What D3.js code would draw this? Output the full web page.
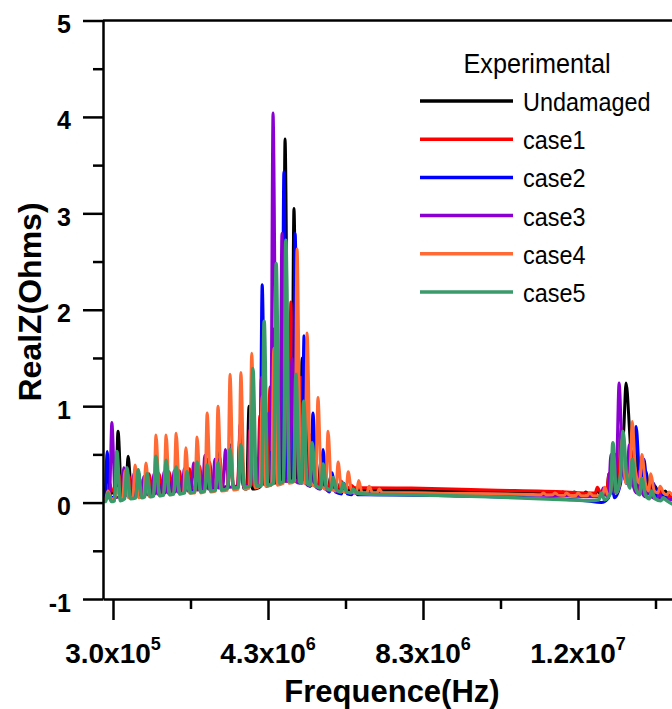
<!DOCTYPE html>
<html>
<head>
<meta charset="utf-8">
<script src="https://cdn.jsdelivr.net/npm/d3@7"></script>
<style>
  body { margin: 0; background: #fff; }
  svg { display: block; font-family: Arial, "Liberation Sans", sans-serif; }
</style>
</head>
<body>
<div class="canvas"></div>
<script>
// frequency in MHz; rows are [f, base] or [f, base, peak] for a resonance spike
const undamaged = [
  [0.05, 0.10], [0.17, 0.10, 0.30], [0.43, 0.10, 0.74], [0.69, 0.10, 0.48], [0.95, 0.11, 0.32],
  [1.20, 0.12, 0.30], [1.44, 0.12, 0.33], [1.69, 0.13, 0.35], [1.95, 0.13, 0.33], [2.21, 0.14, 0.36],
  [2.47, 0.14, 0.40], [2.73, 0.15, 0.45], [3.01, 0.15, 0.52], [3.32, 0.15, 0.60], [3.58, 0.15, 0.75],
  [3.81, 0.14, 1.00], [4.04, 0.15], [4.17, 0.17, 1.25], [4.45, 0.20, 1.80], [4.74, 0.22, 3.77],
  [4.97, 0.24, 3.05], [5.18, 0.22, 1.50], [5.41, 0.18, 0.70], [5.66, 0.15, 0.42], [5.92, 0.14, 0.28],
  [6.18, 0.13, 0.22], [6.45, 0.13, 0.17], [6.70, 0.13], [8.00, 0.13], [10.0, 0.11], [11.3, 0.10],
  [11.6, 0.095, 0.11], [11.9, 0.09, 0.11], [12.2, 0.09, 0.11], [12.5, 0.085, 0.11], [12.8, 0.08, 0.13],
  [13.1, 0.10, 0.30], [13.28, 0.20, 0.50], [13.42, 0.50], [13.54, 0.75, 1.24], [13.68, 0.40],
  [13.8, 0.20, 0.55], [14.05, 0.12, 0.32], [14.29, 0.09, 0.17], [14.55, 0.08, 0.12], [14.8, 0.07], [15.5, 0.06]
];
const case1 = [
  [0.05, 0.12], [0.20, 0.12, 0.20], [0.45, 0.12, 0.30], [0.71, 0.12, 0.28], [0.97, 0.12, 0.27],
  [1.23, 0.13, 0.30], [1.49, 0.13, 0.30], [1.75, 0.14, 0.32], [2.01, 0.14, 0.33], [2.27, 0.15, 0.35],
  [2.53, 0.15, 0.38], [2.79, 0.16, 0.42], [3.05, 0.16, 0.48], [3.31, 0.17, 0.55], [3.57, 0.17, 0.62],
  [3.83, 0.18, 0.75], [4.09, 0.19, 0.90], [4.35, 0.20, 1.20], [4.61, 0.22, 1.00], [4.89, 0.24, 2.08],
  [5.15, 0.22, 1.30], [5.41, 0.19, 0.70], [5.67, 0.17, 0.42], [5.93, 0.16, 0.28], [6.19, 0.16, 0.22],
  [6.45, 0.155, 0.18], [6.70, 0.155], [8.00, 0.15], [10.0, 0.13], [12.0, 0.11], [12.6, 0.10],
  [12.8, 0.10, 0.16], [13.1, 0.12, 0.30], [13.41, 0.25, 0.78], [13.67, 0.20, 0.55], [13.92, 0.13, 0.35],
  [14.16, 0.09, 0.20], [14.42, 0.07, 0.12], [14.8, 0.06], [15.5, 0.05]
];
const case2 = [
  [0.05, 0.05], [0.15, 0.05, 0.53], [0.40, 0.06, 0.28], [0.66, 0.06, 0.25], [0.92, 0.07, 0.22],
  [1.18, 0.08, 0.25], [1.44, 0.09, 0.27], [1.70, 0.10, 0.30], [1.96, 0.11, 0.30], [2.22, 0.12, 0.32],
  [2.48, 0.13, 0.35], [2.74, 0.14, 0.40], [3.00, 0.15, 0.45], [3.32, 0.16, 0.58], [3.60, 0.17, 0.65],
  [3.88, 0.18, 1.00], [4.15, 0.19, 2.26], [4.42, 0.20, 1.30], [4.71, 0.22, 3.43], [5.00, 0.22, 2.79],
  [5.23, 0.20, 1.73], [5.46, 0.17, 0.93], [5.72, 0.14, 0.55], [5.95, 0.11, 0.31], [6.26, 0.09, 0.20],
  [6.52, 0.08, 0.14], [6.80, 0.08], [9.00, 0.07], [11.0, 0.05], [12.5, 0.02], [12.9, 0.00],
  [13.15, 0.05, 0.35], [13.46, 0.20, 0.60], [13.8, 0.25, 0.79], [14.0, 0.15, 0.45], [14.25, 0.07, 0.20],
  [14.5, 0.04, 0.10], [14.8, 0.03], [15.5, 0.02]
];
const case3 = [
  [0.05, 0.05], [0.27, 0.05, 0.83], [0.58, 0.07, 0.36], [0.84, 0.07, 0.30], [1.10, 0.08, 0.27],
  [1.36, 0.09, 0.30], [1.62, 0.10, 0.32], [1.88, 0.11, 0.33], [2.14, 0.12, 0.35], [2.38, 0.13, 0.41],
  [2.67, 0.14, 0.49], [2.93, 0.15, 0.45], [3.20, 0.16, 0.55], [3.58, 0.17, 0.81], [3.86, 0.18, 1.00],
  [4.13, 0.19, 1.30], [4.25, 0.40], [4.29, 0.90], [4.33, 0.93], [4.43, 0.55, 4.04], [4.66, 0.22, 2.79],
  [4.92, 0.22, 1.50], [5.18, 0.20, 0.90], [5.44, 0.17, 0.55], [5.69, 0.14, 0.35], [5.95, 0.12, 0.25],
  [6.20, 0.11, 0.18], [6.50, 0.10], [8.00, 0.10], [10.0, 0.09], [12.0, 0.07], [12.7, 0.06],
  [12.95, 0.07, 0.15], [13.15, 0.10, 0.50], [13.36, 0.40, 1.24], [13.62, 0.20, 0.60], [13.87, 0.10, 0.32],
  [14.1, 0.06, 0.15], [14.4, 0.04, 0.08], [14.8, 0.03], [15.5, 0.03]
];
const case4 = [
  [0.05, 0.03], [0.17, 0.04, 0.12], [0.40, 0.04, 0.15], [0.61, 0.05, 0.33], [0.87, 0.05, 0.39],
  [1.15, 0.06, 0.41], [1.41, 0.07, 0.70], [1.67, 0.08, 0.70], [1.93, 0.09, 0.72], [2.18, 0.10, 0.57],
  [2.47, 0.10, 0.68], [2.73, 0.11, 0.93], [3.01, 0.12, 1.00], [3.32, 0.13, 1.33], [3.60, 0.14, 1.35],
  [3.88, 0.15, 1.55], [4.15, 0.17, 1.10], [4.45, 0.18, 1.60], [4.76, 0.20, 2.00], [5.05, 0.22, 2.63],
  [5.31, 0.20, 1.76], [5.59, 0.17, 1.09], [5.85, 0.14, 0.74], [6.11, 0.12, 0.42], [6.37, 0.11, 0.32],
  [6.64, 0.10, 0.23], [6.91, 0.10, 0.17], [7.17, 0.10, 0.14], [7.50, 0.10], [9.00, 0.095], [11.0, 0.085],
  [11.4, 0.08, 0.10], [11.7, 0.08, 0.10], [12.0, 0.075, 0.10], [12.3, 0.07, 0.10], [12.6, 0.07, 0.10],
  [12.99, 0.07, 0.16], [13.2, 0.10, 0.40], [13.44, 0.20, 0.67], [13.7, 0.30, 0.84], [13.95, 0.20, 0.50],
  [14.18, 0.12, 0.30], [14.42, 0.10, 0.17], [14.65, 0.08, 0.11], [15.0, 0.07], [15.5, 0.06]
];
const case5 = [
  [0.05, 0.01], [0.17, 0.01, 0.10], [0.40, 0.02, 0.53], [0.66, 0.04, 0.36], [0.95, 0.05, 0.34],
  [1.18, 0.06, 0.30], [1.41, 0.07, 0.48], [1.67, 0.08, 0.44], [1.93, 0.09, 0.37], [2.21, 0.10, 0.32],
  [2.47, 0.11, 0.42], [2.73, 0.12, 0.39], [3.01, 0.13, 0.41], [3.32, 0.15, 0.55], [3.60, 0.16, 0.60],
  [3.91, 0.17, 1.39], [4.20, 0.18, 1.88], [4.51, 0.20, 2.48], [4.76, 0.22, 2.72], [5.02, 0.22, 1.33],
  [5.22, 0.20, 1.05], [5.44, 0.18, 0.62], [5.72, 0.15, 0.40], [5.98, 0.13, 0.26], [6.24, 0.11, 0.20],
  [6.50, 0.10, 0.14], [6.80, 0.09], [8.00, 0.08], [10.0, 0.06], [12.0, 0.03], [12.6, 0.02],
  [12.9, 0.03, 0.10], [13.2, 0.10, 0.62], [13.46, 0.30, 0.74], [13.7, 0.15, 0.45], [13.95, 0.08, 0.25],
  [14.2, 0.04, 0.12], [14.5, 0.02, 0.05], [14.8, -0.02], [15.5, -0.03]
];

const seriesNames = ['Undamaged', 'case1', 'case2', 'case3', 'case4', 'case5'];
const seriesData = [undamaged, case1, case2, case3, case4, case5];
const seriesColors = ['#000000', '#ff0000', '#0000ff', '#8a00d0', '#ff6a35', '#3a9a6a'];

const yTicks = [-1, 0, 1, 2, 3, 4, 5];
const yMinor = [-0.5, 0.5, 1.5, 2.5, 3.5, 4.5];
const xTicks = [0.3, 4.3, 8.3, 12.3];
const xMinor = [2.3, 6.3, 10.3, 14.3];
const xTickMantissa = ['3.0x10', '4.3x10', '8.3x10', '1.2x10'];
const xTickExponent = ['5', '6', '6', '7'];

const width = 672, height = 709;

const svg = d3.select('.canvas')
  .append('svg')
    .attr('width', width)
    .attr('height', height);

// scales (right side of the plot runs past the picture edge)
const x = d3.scaleLinear()
  .domain([0.042, 15.5])
  .range([103, 702]);

const y = d3.scaleLinear()
  .domain([-1, 5])
  .range([599, 20.5]);

// spectra
const spike = (rows) => {
  const pts = [];
  rows.forEach(r => {
    if (r.length === 2) pts.push(r);
    else {
      pts.push([r[0] - 0.06, r[1]]);
      pts.push([r[0], r[2]]);
      pts.push([r[0] + 0.09, r[1]]);
    }
  });
  return pts;
};

const line = d3.line()
  .x(d => x(d[0]))
  .y(d => y(d[1]))
  .curve(d3.curveMonotoneX);

svg.append('clipPath').attr('id', 'plot')
  .append('rect')
    .attr('x', x.range()[0])
    .attr('y', y(5))
    .attr('width', x.range()[1] - x.range()[0])
    .attr('height', y(-1) - y(5));

svg.append('g')
  .attr('clip-path', 'url(#plot)')
  .selectAll('path')
  .data(seriesData)
  .enter()
  .append('path')
    .attr('d', d => line(spike(d)))
    .attr('fill', 'none')
    .attr('stroke', (d, i) => seriesColors[i])
    .attr('stroke-width', (d, i) => i === 5 ? 3.5 : 3)
    .attr('stroke-linejoin', 'round');

// axes
const styleAxis = g => {
  g.selectAll('path, line').attr('stroke', '#000').attr('stroke-width', 2.5);
  g.selectAll('text')
    .attr('fill', '#000')
    .style('font-weight', 'bold');
};

const yAxisGroup = svg.append('g')
  .attr('transform', `translate(${x.range()[0]},0)`)
  .call(d3.axisLeft(y).tickValues(yTicks).tickSize(20).tickPadding(12).tickSizeOuter(0)
    .tickFormat(d => String(d)));
yAxisGroup.call(styleAxis);
yAxisGroup.selectAll('text').style('font-size', '25px').attr('dy', '0.48em');

svg.append('g')
  .attr('transform', `translate(${x.range()[0]},0)`)
  .call(d3.axisLeft(y).tickValues(yMinor).tickSize(10).tickFormat(''))
  .call(g => g.select('.domain').remove())
  .call(styleAxis);

const xAxisGroup = svg.append('g')
  .attr('transform', `translate(0,${y(-1)})`)
  .call(d3.axisBottom(x).tickValues(xTicks).tickSize(21).tickSizeOuter(0).tickFormat(''));
xAxisGroup.call(styleAxis);

svg.append('g')
  .attr('transform', `translate(0,${y(-1)})`)
  .call(d3.axisBottom(x).tickValues(xMinor).tickSize(10).tickFormat(''))
  .call(g => g.select('.domain').remove())
  .call(styleAxis);

// tick labels with superscript exponents
const xLabels = svg.append('g')
  .selectAll('text')
  .data(xTicks)
  .enter()
  .append('text')
    .attr('x', d => x(d))
    .attr('y', 663)
    .attr('text-anchor', 'middle')
    .style('font-weight', 'bold')
    .style('font-size', '28px');
xLabels.append('tspan').text((d, i) => xTickMantissa[i]);
xLabels.append('tspan')
  .attr('dy', -13)
  .style('font-size', '18px')
  .text((d, i) => xTickExponent[i]);

// top frame line
svg.append('line')
  .attr('x1', x.range()[0])
  .attr('x2', x.range()[1])
  .attr('y1', y(5))
  .attr('y2', y(5))
  .attr('stroke', '#000')
  .attr('stroke-width', 2.5);

// axis titles
svg.append('text')
  .attr('transform', 'translate(41,302) rotate(-90)')
  .attr('text-anchor', 'middle')
  .style('font-weight', 'bold')
  .style('font-size', '32px')
  .text('RealZ(Ohms)');

svg.append('text')
  .attr('x', 392)
  .attr('y', 702)
  .attr('text-anchor', 'middle')
  .style('font-weight', 'bold')
  .style('font-size', '31px')
  .text('Frequence(Hz)');

// legend
const legend = svg.append('g');

legend.append('text')
  .attr('transform', 'translate(537,73) scale(0.9,1)')
  .attr('text-anchor', 'middle')
  .style('font-size', '28px')
  .text('Experimental');

const items = legend.selectAll('g.item')
  .data(seriesNames)
  .enter()
  .append('g')
    .attr('class', 'item')
    .attr('transform', (d, i) => `translate(0,${101 + i * 38.2})`);

items.append('line')
  .attr('x1', 420)
  .attr('x2', 513)
  .attr('stroke', (d, i) => seriesColors[i])
  .attr('stroke-width', 3.5);

items.append('text')
  .attr('transform', 'translate(523,10) scale(0.9,1)')
  .style('font-size', '26px')
  .text(d => d);
</script>
</body>
</html>
